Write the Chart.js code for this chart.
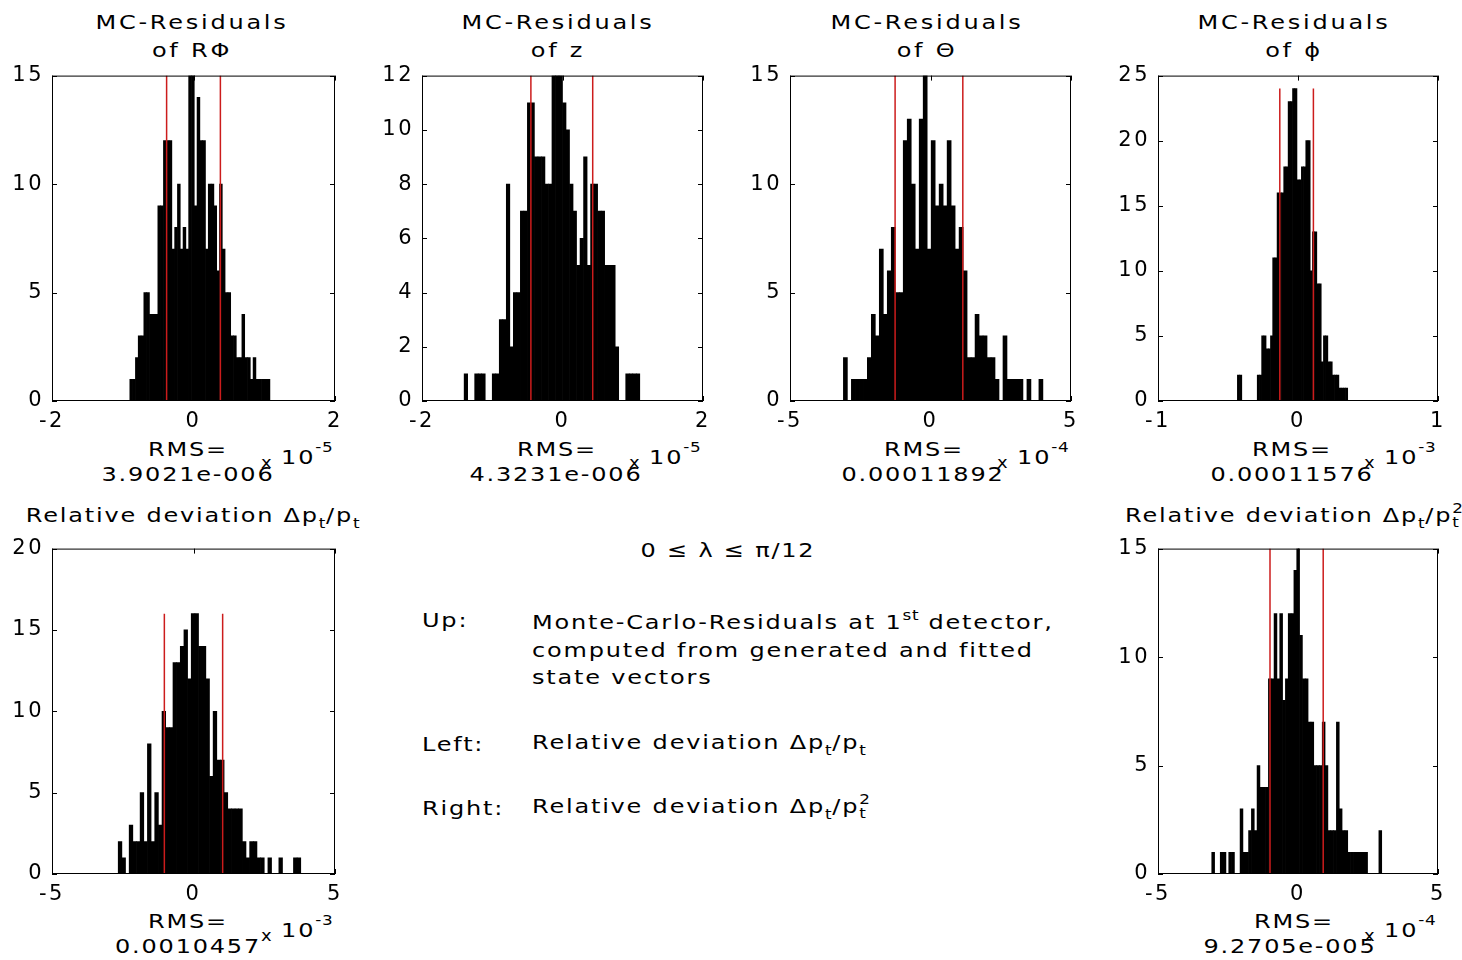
<!DOCTYPE html>
<html>
<head>
<meta charset="utf-8">
<script src="https://cdn.jsdelivr.net/npm/chart.js@4/dist/chart.umd.min.js"></script>
<style>
  body { margin: 0; width: 1462px; height: 960px; background: #fff; overflow: hidden; position: relative; }
  .box { position: absolute; }
  .t { position: absolute; white-space: nowrap; font: 20px "DejaVu Sans", sans-serif; letter-spacing: 1.5px; color: #000; line-height: 26px; }
  .c { transform: translate(-50%, -50%) scaleX(1.2); }
  .l { transform-origin: left center; transform: translateY(-50%) scaleX(1.2); }
  .t sub, .t sup { font-size: 14px; letter-spacing: 0.5px; line-height: 0; }
  .t sub { vertical-align: -6px; }
  .t sup { vertical-align: 9px; }
  .t sup.ex { vertical-align: 12px; }
  .ss { display: inline-flex; flex-direction: column; vertical-align: 9px; font-size: 14px; line-height: 14px; letter-spacing: 0; }
  .xs { font-size: 15px; letter-spacing: 0; vertical-align: -4px; }
  .title { letter-spacing: 2.3px; }
</style>
</head>
<body>

<div class="t c title" style="left:192px;top:22px">MC-Residuals</div>
<div class="t c title" style="left:192px;top:50px">of RΦ</div>
<div class="t c title" style="left:558px;top:22px">MC-Residuals</div>
<div class="t c title" style="left:558px;top:50px">of z</div>
<div class="t c title" style="left:927px;top:22px">MC-Residuals</div>
<div class="t c title" style="left:927px;top:50px">of Θ</div>
<div class="t c title" style="left:1294px;top:22px">MC-Residuals</div>
<div class="t c title" style="left:1294px;top:50px">of ϕ</div>

<div class="t c" style="left:188px;top:449px">RMS=</div>
<div class="t c" style="left:188px;top:474px">3.9021e-006</div>
<div class="t l" style="left:261px;top:460px"><span class="xs">x</span> 10<sup class="ex">-5</sup></div>
<div class="t c" style="left:557px;top:449px">RMS=</div>
<div class="t c" style="left:556px;top:474px">4.3231e-006</div>
<div class="t l" style="left:629px;top:460px"><span class="xs">x</span> 10<sup class="ex">-5</sup></div>
<div class="t c" style="left:924px;top:449px">RMS=</div>
<div class="t c" style="left:923px;top:474px">0.00011892</div>
<div class="t l" style="left:997px;top:460px"><span class="xs">x</span> 10<sup class="ex">-4</sup></div>
<div class="t c" style="left:1292px;top:449px">RMS=</div>
<div class="t c" style="left:1292px;top:474px">0.00011576</div>
<div class="t l" style="left:1364px;top:460px"><span class="xs">x</span> 10<sup class="ex">-3</sup></div>

<div class="t c" style="left:193px;top:515px">Relative deviation Δp<sub>t</sub>/p<sub>t</sub></div>
<div class="t c" style="left:1294px;top:515px">Relative deviation Δp<sub>t</sub>/p<span class="ss"><span>2</span><span>t</span></span></div>

<div class="t c" style="left:188px;top:921px">RMS=</div>
<div class="t c" style="left:188px;top:946px">0.0010457</div>
<div class="t l" style="left:261px;top:933px"><span class="xs">x</span> 10<sup class="ex">-3</sup></div>
<div class="t c" style="left:1294px;top:921px">RMS=</div>
<div class="t c" style="left:1290px;top:946px">9.2705e-005</div>
<div class="t l" style="left:1364px;top:933px"><span class="xs">x</span> 10<sup class="ex">-4</sup></div>

<div class="t c" style="left:728px;top:550px">0 ≤ λ ≤ π/12</div>
<div class="t l" style="left:422px;top:620px">Up:</div>
<div class="t l" style="left:532px;top:622px">Monte-Carlo-Residuals at 1<sup>st</sup> detector,</div>
<div class="t l" style="left:532px;top:650px">computed from generated and fitted</div>
<div class="t l" style="left:532px;top:677px">state vectors</div>
<div class="t l" style="left:422px;top:744px">Left:</div>
<div class="t l" style="left:532px;top:742px">Relative deviation Δp<sub>t</sub>/p<sub>t</sub></div>
<div class="t l" style="left:422px;top:808px">Right:</div>
<div class="t l" style="left:532px;top:806px">Relative deviation Δp<sub>t</sub>/p<span class="ss"><span>2</span><span>t</span></span></div>

<script>
// ── Histogram data (counts per bin, bin range in axis units) ─────────────────
// R·Phi residuals, axis x 1e-5
const rphiRange = [-0.9, 1.08];
const rphiCounts = [1,1,2,3,3,5,5,4,4,4, 9,9,12,12,12,7,8,10,7,8,
                    7,15,15,9,14,12,12,7,10,10, 9,6,10,7,5,5,3,3,2,2,
                    4,2,2,1,2,1,1,1,1,1];
const rphiRms = [-0.38, 0.38];
const rphiTop = 15;

// z residuals, axis x 1e-5
const zRange = [-1.4, 1.1];
const zCounts = [1,0,0,1,1,1,0,0,1,1, 3,3,8,2,4,4,7,7,11,11,
                 9,9,9,8,8,12,12,12,11,10, 8,7,5,6,9,5,8,8,7,7,
                 5,5,5,2,0,0,1,1,1,1];
const zRms = [-0.45, 0.43];
const zTop = 12;

// Theta residuals, axis x 1e-4
const thetaRange = [-3.1, 4.0];
const thetaCounts = [2,0,1,1,1,1,2,4,3,7, 4,6,8,5,5,12,13,10,7,13,
                     15,7,12,9,10,9,12,9,7,8, 6,2,2,4,3,3,2,2,1,0,
                     3,1,1,1,1,0,1,0,0,1];
const thetaRms = [-1.26, 1.15];
const thetaTop = 15;

// phi residuals, axis x 1e-3
const phiRange = [-0.433, 0.355];
const phiCounts = [2,2,0,0,0,0,0,0,0,2, 2,5,5,4,4,5,11,11,16,16,
                   16,18,18,23,23,24,24,17,17,18, 18,20,20,10,13,13,9,9,3,5,
                   5,3,3,2,2,2,1,1,1,1];
const phiRms = [-0.13, 0.11];
const phiTop = 24;

// dpt/pt, axis x 1e-3
const ptRange = [-2.66, 3.79];
const ptCounts = [2,1,0,3,2,2,5,2,8,2, 5,3,10,9,9,13,13,14,15,12,
                  16,16,14,14,12,6,10,7,7,5, 4,4,4,4,2,1,2,2,1,1,
                  0,1,0,0,1,0,0,0,1,1];
const ptRms = [-1.03, 1.03];
const ptTop = 16;

// dpt/pt^2, axis x 1e-4
const pt2Range = [-3.08, 2.99];
const pt2Counts = [1,0,0,1,1,0,1,1,0,0, 3,1,1,2,3,2,5,4,4,4,
                   9,9,12,9,12,8,9,12,12,14, 15,11,9,9,7,7,5,5,5,7,
                   5,2,2,2,7,3,2,2,1,1, 1,1,1,1,1,0,0,0,0,2];
const pt2Rms = [-1.0, 0.9];
const pt2Top = 15;

// ── Panel layout ─────────────────────────────────────────────────────────────
const panels = [
  { left: 52,   top: 75,  w: 283, h: 326, range: rphiRange,  counts: rphiCounts,  rms: rphiRms,  lineTop: rphiTop,  x: [-2, 2, 2], y: [15, 5] },
  { left: 422,  top: 75,  w: 281, h: 326, range: zRange,     counts: zCounts,     rms: zRms,     lineTop: zTop,     x: [-2, 2, 2], y: [12, 2] },
  { left: 790,  top: 75,  w: 281, h: 326, range: thetaRange, counts: thetaCounts, rms: thetaRms, lineTop: thetaTop, x: [-5, 5, 5], y: [15, 5] },
  { left: 1158, top: 75,  w: 280, h: 326, range: phiRange,   counts: phiCounts,   rms: phiRms,   lineTop: phiTop,   x: [-1, 1, 1], y: [25, 5] },
  { left: 52,   top: 548, w: 283, h: 326, range: ptRange,    counts: ptCounts,    rms: ptRms,    lineTop: ptTop,    x: [-5, 5, 5], y: [20, 5] },
  { left: 1158, top: 548, w: 280, h: 326, range: pt2Range,   counts: pt2Counts,   rms: pt2Rms,   lineTop: pt2Top,   x: [-5, 5, 5], y: [15, 5] },
];

const PAD_L = 60, PAD_T = 20, PAD_R = 20, PAD_B = 40;

// box + inward ticks on all four sides, matlab style
const framePlugin = {
  id: "frame",
  beforeDraw(chart) { chart.ctx.letterSpacing = "2.5px"; },
  afterDatasetsDraw(chart) {
    const { ctx, chartArea: a, scales: { x, y } } = chart;
    ctx.save();
    ctx.strokeStyle = "#000";
    ctx.lineWidth = 1;
    ctx.strokeRect(a.left + 0.5, a.top + 0.5, a.right - a.left - 1, a.bottom - a.top - 1);
    ctx.beginPath();
    x.ticks.forEach(t => {
      const px = Math.round(x.getPixelForValue(t.value)) + 0.5;
      ctx.moveTo(px, a.bottom); ctx.lineTo(px, a.bottom - 5);
      ctx.moveTo(px, a.top);    ctx.lineTo(px, a.top + 5);
    });
    y.ticks.forEach(t => {
      const py = Math.round(y.getPixelForValue(t.value)) + 0.5;
      ctx.moveTo(a.left, py);  ctx.lineTo(a.left + 5, py);
      ctx.moveTo(a.right, py); ctx.lineTo(a.right - 5, py);
    });
    ctx.stroke();
    ctx.restore();
  }
};

function binPoints(range, counts) {
  const bw = (range[1] - range[0]) / counts.length;
  return counts.map((c, i) => ({ x: range[0] + (i + 0.5) * bw, y: c }));
}

function rmsLine(xv, top) {
  return {
    type: "line",
    data: [{ x: xv, y: 0 }, { x: xv, y: top }],
    borderColor: "#cc1c1c",
    borderWidth: 1.5,
    pointRadius: 0,
    order: 0,
  };
}

panels.forEach((p, i) => {
  const box = document.createElement("div");
  box.className = "box";
  box.style.left = (p.left - PAD_L) + "px";
  box.style.top = (p.top - PAD_T) + "px";
  box.style.width = (p.w + PAD_L + PAD_R) + "px";
  box.style.height = (p.h + PAD_T + PAD_B) + "px";
  const cv = document.createElement("canvas");
  cv.id = "hist" + i;
  box.appendChild(cv);
  document.body.appendChild(box);

  const tickFont = { family: "DejaVu Sans", size: 21 };

  new Chart(cv, {
    type: "bar",
    data: {
      datasets: [
        {
          data: binPoints(p.range, p.counts),
          backgroundColor: "#000",
          borderWidth: 0,
          barPercentage: 1,
          categoryPercentage: 1,
          order: 1,
        },
        rmsLine(p.rms[0], p.lineTop),
        rmsLine(p.rms[1], p.lineTop),
      ]
    },
    options: {
      responsive: true,
      maintainAspectRatio: false,
      animation: false,
      layout: { padding: { left: 0, top: PAD_T, right: PAD_R, bottom: 0 } },
      plugins: { legend: { display: false }, tooltip: { enabled: false } },
      scales: {
        x: {
          type: "linear",
          min: p.x[0], max: p.x[1],
          offset: false,
          grid: { display: false, drawTicks: false },
          border: { display: false },
          ticks: { stepSize: p.x[2], color: "#000", font: tickFont, padding: 8, maxRotation: 0 },
          afterFit: s => { s.height = PAD_B; },
        },
        y: {
          min: 0, max: p.y[0],
          grid: { display: false, drawTicks: false },
          border: { display: false },
          ticks: { stepSize: p.y[1], color: "#000", font: tickFont, padding: 8 },
          afterFit: s => { s.width = PAD_L; },
        }
      }
    },
    plugins: [framePlugin]
  });
});
</script>
</body>
</html>
